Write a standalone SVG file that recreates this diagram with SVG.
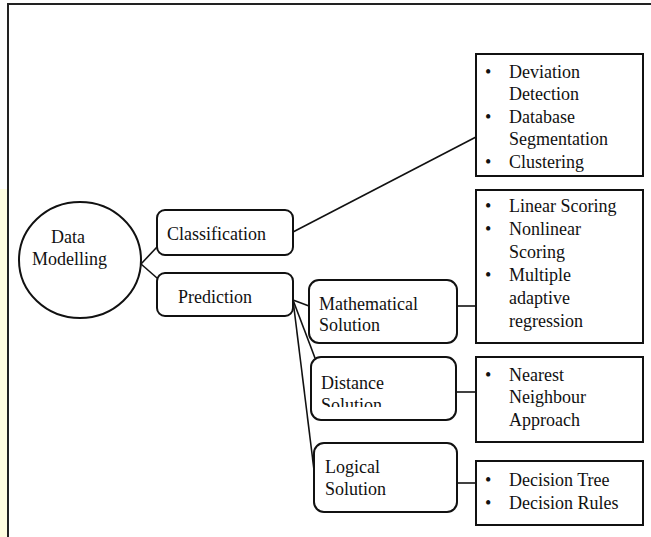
<svg xmlns="http://www.w3.org/2000/svg" width="651" height="537" viewBox="0 0 651 537">
<defs>
<style>
text{font-family:"Liberation Serif","Times New Roman",serif;font-size:18px;fill:#111}
.box{fill:#fff;stroke:#111;stroke-width:2}
.rbox{fill:#fff;stroke:#111;stroke-width:2}
.conn line{stroke:#111;stroke-width:1.6}
.frame{fill:none;stroke:#222;stroke-width:2}
</style>
<clipPath id="clipDist"><rect x="311" y="357" width="145" height="50"/></clipPath>
</defs>
<rect width="651" height="537" fill="#fff"/>
<rect x="0" y="189" width="7" height="348" fill="#FFFDE0"/>
<path class="frame" d="M8,537 V4 H651"/>
<g id="connectors" class="conn">
<line x1="141" y1="264" x2="157" y2="247"/>
<line x1="141" y1="264" x2="157" y2="278"/>
<line x1="293" y1="232" x2="476" y2="137"/>
<line x1="293" y1="300" x2="309" y2="306"/>
<line x1="293" y1="300" x2="315" y2="358"/>
<line x1="293" y1="300" x2="314" y2="470"/>
<line x1="457" y1="306" x2="476" y2="306"/>
<line x1="456" y1="392" x2="476" y2="392"/>
<line x1="457" y1="483" x2="476" y2="483"/>
</g>
<g id="data-modelling">
<ellipse cx="80" cy="260" rx="61" ry="58" fill="#fff" stroke="#111" stroke-width="2"/>
<text x="51" y="243">Data</text>
<text x="32" y="265">Modelling</text>
</g>
<g id="classification">
<rect class="rbox" x="157" y="210" width="136" height="45" rx="8"/>
<text x="167" y="240">Classification</text>
</g>
<g id="prediction">
<rect class="rbox" x="157" y="273" width="136" height="43" rx="8"/>
<text x="178" y="303">Prediction</text>
</g>
<g id="mathematical">
<rect class="rbox" x="309" y="280" width="148" height="63" rx="10"/>
<text x="319" y="310">Mathematical</text>
<text x="319" y="331">Solution</text>
</g>
<g id="distance">
<rect class="rbox" x="311" y="357" width="145" height="63" rx="10"/>
<text x="321" y="389">Distance</text>
<text x="321" y="411" clip-path="url(#clipDist)">Solution</text>
</g>
<g id="logical">
<rect class="rbox" x="314" y="443" width="143" height="69" rx="10"/>
<text x="325" y="473">Logical</text>
<text x="325" y="495">Solution</text>
</g>
<g id="classification-list">
<rect class="box" x="476" y="54" width="167" height="122"/>
<text x="485" y="78">•</text><text x="509" y="78">Deviation</text>
<text x="509" y="100">Detection</text>
<text x="485" y="123">•</text><text x="509" y="123">Database</text>
<text x="509" y="145">Segmentation</text>
<text x="485" y="168">•</text><text x="509" y="168">Clustering</text>
</g>
<g id="mathematical-list">
<rect class="box" x="476" y="190" width="167" height="153"/>
<text x="485" y="212">•</text><text x="509" y="212">Linear Scoring</text>
<text x="485" y="235">•</text><text x="509" y="235">Nonlinear</text>
<text x="509" y="258">Scoring</text>
<text x="485" y="281">•</text><text x="509" y="281">Multiple</text>
<text x="509" y="304">adaptive</text>
<text x="509" y="327">regression</text>
</g>
<g id="distance-list">
<rect class="box" x="476" y="357" width="167" height="85"/>
<text x="485" y="381">•</text><text x="509" y="381">Nearest</text>
<text x="509" y="403">Neighbour</text>
<text x="509" y="426">Approach</text>
</g>
<g id="logical-list">
<rect class="box" x="476" y="461" width="167" height="64"/>
<text x="485" y="486">•</text><text x="509" y="486">Decision Tree</text>
<text x="485" y="509">•</text><text x="509" y="509">Decision Rules</text>
</g>
</svg>
